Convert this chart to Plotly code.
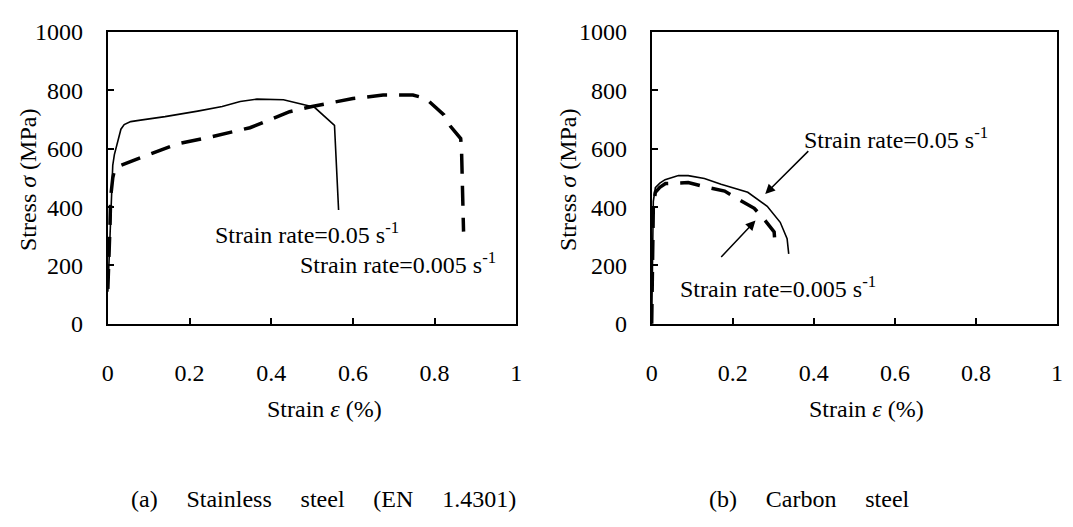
import plotly.graph_objects as go

# ---- data (strain %, stress MPa) ----
ss_fast_x = [0.0, 0.004, 0.008, 0.012, 0.016, 0.02, 0.026, 0.032, 0.04, 0.056, 0.08, 0.14, 0.22, 0.28, 0.324, 0.365, 0.43, 0.46, 0.506, 0.555, 0.56, 0.565]
ss_fast_y = [110, 250, 420, 543, 580, 602, 640, 667, 683, 693, 698, 710, 729, 745, 762, 770, 768, 758, 742, 680, 520, 390]

ss_slow_x = [0.0, 0.003, 0.005, 0.007, 0.01, 0.012, 0.016, 0.022, 0.029, 0.08, 0.17, 0.25, 0.348, 0.445, 0.5, 0.6, 0.674, 0.747, 0.779, 0.823, 0.839, 0.864, 0.866, 0.871]
ss_slow_y = [120, 217, 325, 435, 480, 500, 525, 538, 542, 568, 617, 640, 672, 727, 745, 772, 784, 784, 772, 716, 677, 635, 600, 316]

cs_fast_x = [0.0, 0.002, 0.004, 0.009, 0.02, 0.033, 0.066, 0.09, 0.13, 0.171, 0.237, 0.285, 0.317, 0.334, 0.338]
cs_fast_y = [0, 200, 420, 467, 482, 494, 508, 508, 498, 478, 451, 403, 348, 292, 240]

cs_slow_x = [0.0, 0.002, 0.004, 0.009, 0.02, 0.034, 0.09, 0.139, 0.18, 0.22, 0.253, 0.28, 0.302, 0.305]
cs_slow_y = [0, 200, 400, 451, 468, 481, 484, 467, 455, 422, 396, 354, 315, 260]

x_ticks = [0, 0.2, 0.4, 0.6, 0.8, 1]
x_ticklabels = ["0", "0.2", "0.4", "0.6", "0.8", "1"]
y_ticks = [0, 200, 400, 600, 800, 1000]

W, H = 1073, 527
FONT = "Liberation Serif, Times New Roman, serif"

def px(x):
    return x / W

def py(y):
    return 1 - y / H

fig = go.Figure()
solid = dict(color="black", width=1.6)
dashed = dict(color="black", width=3.5, dash="20px,12px")

fig.add_trace(go.Scatter(x=ss_fast_x, y=ss_fast_y, mode="lines", line=solid, xaxis="x", yaxis="y"))
fig.add_trace(go.Scatter(x=ss_slow_x, y=ss_slow_y, mode="lines", line=dashed, xaxis="x", yaxis="y"))
fig.add_trace(go.Scatter(x=cs_fast_x, y=cs_fast_y, mode="lines", line=solid, xaxis="x2", yaxis="y2"))
fig.add_trace(go.Scatter(x=cs_slow_x, y=cs_slow_y, mode="lines", line=dashed, xaxis="x2", yaxis="y2"))

ax_common = dict(showline=True, linecolor="black", linewidth=2, mirror=True,
                 ticks="inside", ticklen=6, tickwidth=1.5, tickcolor="black",
                 showgrid=False, zeroline=False,
                 tickfont=dict(family=FONT, size=24, color="black"))

xa = dict(ax_common, range=[0, 1], tickvals=x_ticks, ticktext=x_ticklabels, ticklabelstandoff=26)
ya = dict(ax_common, range=[0, 1000], tickvals=y_ticks, ticklabelstandoff=18)

fig.update_layout(
    width=W, height=H,
    margin=dict(l=0, r=0, t=0, b=0),
    paper_bgcolor="white", plot_bgcolor="white",
    showlegend=False,
    font=dict(family=FONT, size=24, color="black"),
    xaxis=dict(xa, domain=[px(103), px(516)], anchor="y"),
    yaxis=dict(ya, domain=[py(327), py(20)], anchor="x"),
    xaxis2=dict(xa, domain=[px(653), px(1063)], anchor="y2"),
    yaxis2=dict(ya, domain=[py(327), py(20)], anchor="x2"),
)

txt = dict(showarrow=False, xref="paper", yref="paper", xanchor="center", yanchor="middle",
           font=dict(family=FONT, size=24, color="black"))
gap = "\u00a0\u00a0\u00a0\u00a0\u2009"
annos = [
    dict(txt, x=px(23), y=py(175), text="Stress <i>σ</i> (MPa)", textangle=-90),
    dict(txt, x=px(569), y=py(175), text="Stress <i>σ</i> (MPa)", textangle=-90),
    dict(txt, x=px(322), y=py(417), text="Strain <i>ε</i> (%)"),
    dict(txt, x=px(870), y=py(417), text="Strain <i>ε</i> (%)"),
    dict(txt, x=px(321), y=py(511), text="(a)" + gap + "Stainless" + gap + "steel" + gap + "(EN" + gap + "1.4301)"),
    dict(txt, x=px(813), y=py(511), text="(b)" + gap + "Carbon" + gap + "steel"),
    dict(txt, x=px(304), y=py(231), text="Strain rate=0.05 s<sup>-1</sup>"),
    dict(txt, x=px(396), y=py(263), text="Strain rate=0.005 s<sup>-1</sup>"),
    dict(txt, x=px(900), y=py(132), text="Strain rate=0.05 s<sup>-1</sup>"),
    dict(txt, x=px(781), y=py(288), text="Strain rate=0.005 s<sup>-1</sup>"),
    dict(x=0.28, y=445, ax=0.39, ay=597, xref="x2", yref="y2", axref="x2", ayref="y2",
         showarrow=True, arrowhead=2, arrowsize=1.3, arrowwidth=1.5, arrowcolor="black", text=""),
    dict(x=0.256, y=354, ax=0.168, ay=224, xref="x2", yref="y2", axref="x2", ayref="y2",
         showarrow=True, arrowhead=2, arrowsize=1.3, arrowwidth=1.5, arrowcolor="black", text=""),
]
fig.update_layout(annotations=annos)

fig.write_html("out.html")
